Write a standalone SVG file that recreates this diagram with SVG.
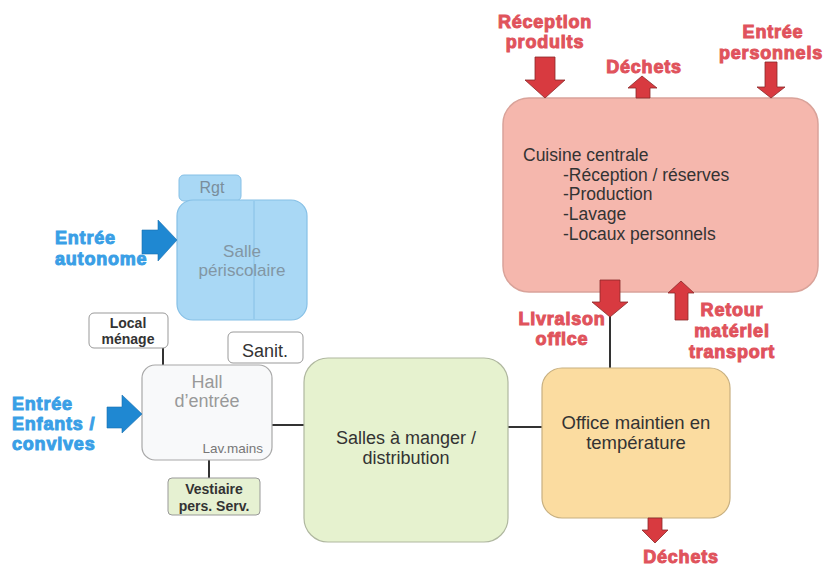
<svg xmlns="http://www.w3.org/2000/svg" width="823" height="567" viewBox="0 0 823 567">
<style>
.red{fill:#e0535c;stroke:#e0535c;stroke-width:1;font-family:"Liberation Sans",Arial,sans-serif;font-weight:bold;font-size:18px;letter-spacing:0.8px;text-anchor:middle}
.blue{fill:#3a9fe6;stroke:#3a9fe6;stroke-width:1;font-family:"Liberation Sans",Arial,sans-serif;font-weight:bold;font-size:18px;letter-spacing:0.8px}
.t{font-family:"Liberation Sans",Arial,sans-serif;fill:#333}
.c{text-anchor:middle}
.ra{fill:#d83a40;stroke:#8a2a2a;stroke-width:0.8}
.ba{fill:#1f88d2;stroke:#1a6fae;stroke-width:0.6}
.conn{stroke:#333;stroke-width:2;fill:none}
</style>
<rect width="823" height="567" fill="#ffffff"/>
<g id="connectors">
<line class="conn" x1="163" y1="348" x2="163" y2="366"/>
<line class="conn" x1="209" y1="460" x2="209" y2="478"/>
<line class="conn" x1="272" y1="425" x2="304" y2="425"/>
<line class="conn" x1="508" y1="427" x2="543" y2="427"/>
<line class="conn" x1="610" y1="310" x2="610" y2="368"/>
</g>
<g id="cuisine">
<rect x="503" y="98" width="315" height="194" rx="26" fill="#f5b7ad" stroke="#d9a39a" stroke-width="1.5"/>
<text class="t" font-size="17.5" x="523" y="161">Cuisine centrale</text>
<text class="t" font-size="17.5" x="563" y="181">-Réception / réserves</text>
<text class="t" font-size="17.5" x="563" y="200">-Production</text>
<text class="t" font-size="17.5" x="563" y="220">-Lavage</text>
<text class="t" font-size="17.5" x="563" y="240">-Locaux personnels</text>
</g>
<g id="reception-produits">
<polygon class="ra" points="535,57 555,57 555,80 565,80 545,98 525,80 535,80"/>
<text class="red" x="545" y="28">Réception</text>
<text class="red" x="545" y="48">produits</text>
</g>
<g id="dechets-haut">
<polygon class="ra" points="642,76 657,88 650,88 650,98 636,98 636,88 628,88"/>
<text class="red" x="644" y="73">Déchets</text>
</g>
<g id="entree-personnels">
<polygon class="ra" points="765,62 777,62 777,87 785,87 771,98 757,87 765,87"/>
<text class="red" x="773" y="38">Entrée</text>
<text class="red" x="719" y="59" style="text-anchor:start">personnels</text>
</g>
<g id="livraison-office">
<polygon class="ra" points="600,280 620,280 620,302 628,302 610,317 592,302 600,302"/>
<text class="red" x="562" y="325">Livraison</text>
<text class="red" x="562" y="345">office</text>
</g>
<g id="retour-materiel">
<polygon class="ra" points="681,281 694,293 688,293 688,320 675,320 675,293 668,293"/>
<text class="red" x="732" y="316">Retour</text>
<text class="red" x="732" y="337">matériel</text>
<text class="red" x="732" y="358">transport</text>
</g>
<g id="salle-periscolaire">
<rect x="179" y="175" width="62" height="26" rx="5" fill="#a9d8f5" stroke="#86c0e6" stroke-width="1"/>
<text class="t c" font-size="16" x="212" y="193" style="fill:#7a8e9c">Rgt</text>
<rect x="177" y="200" width="130" height="120" rx="16" fill="#a9d8f5" stroke="#86c0e6" stroke-width="1.2"/>
<line x1="254" y1="201" x2="254" y2="319" stroke="#86c0e6" stroke-width="1"/>
<text class="t c" font-size="17" x="242" y="257" style="fill:#8296a4">Salle</text>
<text class="t c" font-size="17" x="242" y="276" style="fill:#8296a4">périscolaire</text>
</g>
<g id="entree-autonome">
<polygon class="ba" points="142,230 158,230 158,220 177,240 158,261 158,254 142,254"/>
<text class="blue" x="55" y="244">Entrée</text>
<text class="blue" x="55" y="265">autonome</text>
</g>
<g id="local-menage">
<rect x="89" y="313" width="79" height="35" rx="5" fill="#ffffff" stroke="#999" stroke-width="1"/>
<text class="t c" font-size="14" font-weight="bold" x="128" y="328">Local</text>
<text class="t c" font-size="14" font-weight="bold" x="128" y="344">ménage</text>
</g>
<g id="sanit">
<rect x="228" y="332" width="75" height="31" rx="5" fill="#ffffff" stroke="#999" stroke-width="1"/>
<text class="t c" font-size="18" x="265" y="357">Sanit.</text>
</g>
<g id="hall">
<rect x="142" y="365" width="130" height="95" rx="13" fill="#f8f9fa" stroke="#a8a8a8" stroke-width="1.2"/>
<text class="t c" font-size="18" x="207" y="388" style="fill:#999">Hall</text>
<text class="t c" font-size="18" x="207" y="407" style="fill:#999">d’entrée</text>
<text class="t" font-size="13.5" x="263" y="453" text-anchor="end" style="fill:#777">Lav.mains</text>
</g>
<g id="entree-enfants">
<polygon class="ba" points="107,407 122,407 122,395 142,414 122,433 122,428 107,428"/>
<text class="blue" x="12" y="410">Entrée</text>
<text class="blue" x="12" y="430">Enfants /</text>
<text class="blue" x="12" y="450">convives</text>
</g>
<g id="vestiaire">
<rect x="168" y="478" width="92" height="37" rx="4" fill="#e6f1d2" stroke="#999" stroke-width="1"/>
<text class="t c" font-size="14" font-weight="bold" x="214" y="494">Vestiaire</text>
<text class="t c" font-size="14" font-weight="bold" x="214" y="511">pers. Serv.</text>
</g>
<g id="salles-a-manger">
<rect x="304" y="358" width="204" height="184" rx="24" fill="#e6f2cf" stroke="#b0b8a0" stroke-width="1.2"/>
<text class="t c" font-size="18" x="406" y="444">Salles à manger /</text>
<text class="t c" font-size="18" x="406" y="464">distribution</text>
</g>
<g id="office">
<rect x="542" y="368" width="188" height="150" rx="20" fill="#fbdca0" stroke="#c8b080" stroke-width="1.2"/>
<text class="t c" font-size="18.5" x="636" y="429">Office maintien en</text>
<text class="t c" font-size="18.5" x="636" y="449">température</text>
</g>
<g id="dechets-bas">
<polygon class="ra" points="648,518 662,518 662,530 668,530 655,543 642,530 648,530"/>
<text class="red" x="681" y="563">Déchets</text>
</g>
</svg>
